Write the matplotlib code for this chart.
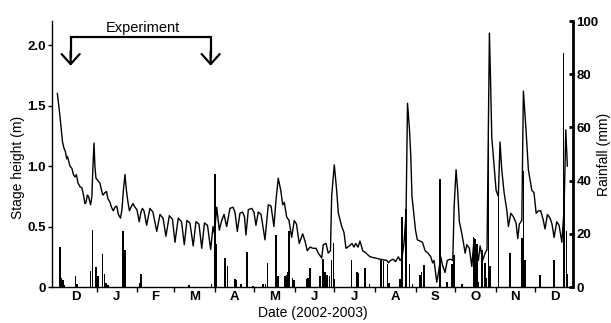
import matplotlib
matplotlib.use("Agg")
import matplotlib.pyplot as plt
from matplotlib.ticker import FixedLocator, NullFormatter, FixedFormatter

plt.rcParams['font.family'] = ['Liberation Sans', 'DejaVu Sans']

# x values: days since 1 Dec 2002
stage_days = [1.1, 3.0, 5.0, 6.1, 7.2, 8.2, 8.8, 10.7, 12.2, 13.3, 14.5, 15.6, 16.8, 18.3,
              19.8, 21.0, 22.1, 22.9, 23.9, 24.8, 26.4, 27.4, 28.2, 29.0, 29.7, 30.5, 32.0,
              33.5, 34.7, 35.8, 37.3, 38.5, 39.6, 41.2, 42.3, 43.7, 45.0, 46.3, 47.6, 49.2,
              50.3, 51.4, 52.6, 53.7, 54.9, 56.0, 57.2, 58.7, 60.2, 61.7, 63.5, 64.8, 65.9,
              67.1, 69.1, 71.6, 73.9, 76.8, 79.3, 81.6, 83.8, 86.4, 88.8, 90.7, 93.2, 95.7,
              97.8, 99.8, 102.1, 104.6, 106.7, 109.0, 111.1, 113.2, 115.5, 117.9, 119.7,
              120.8, 122.5, 124.5, 126.3, 128.1, 130.1, 132.6, 134.9, 136.4, 138.2, 140.2,
              142.2, 143.7, 144.8, 146.6, 149.2, 150.9, 152.4, 154.2, 156.3, 159.3, 161.8,
              163.9, 166.1, 167.7, 169.4, 171.3, 172.8, 174.0, 175.8, 177.6, 179.6, 181.6,
              183.3, 185.4, 188.0, 189.8, 191.5, 193.6, 195.9, 198.2, 199.9, 202.5, 203.7,
              205.8, 207.5, 209.2, 210.1, 212.1, 213.9, 215.2, 217.8, 219.5, 221.0, 223.6,
              225.6, 227.1, 228.4, 230.2, 231.7, 233.8, 236.3, 239.3, 243.1, 247.0, 252.1,
              253.3, 255.0, 256.9, 258.8, 260.9, 262.2, 263.7, 265.2, 266.8, 267.9, 269.4,
              270.4, 271.3, 272.9, 274.0, 275.4, 277.4, 279.3, 281.3, 283.5, 285.6, 287.0,
              288.1, 290.2, 291.5, 293.2, 294.6, 296.5, 298.2, 300.3, 302.4, 303.4, 304.9,
              306.1, 307.4, 309.3, 310.6, 311.8, 313.1, 315.0, 316.9, 318.6, 320.7, 321.9,
              323.2, 325.2, 327.0, 328.5, 329.7, 330.3, 331.2, 332.1, 333.9, 335.4, 337.1,
              338.4, 339.7, 341.5, 343.5, 344.8, 346.6, 348.6, 350.6, 351.9, 353.1, 355.0,
              356.2, 358.2, 360.0, 362.6, 364.3, 365.9, 367.6, 369.4, 371.2, 372.7, 374.5,
              376.5, 378.0, 379.6, 381.6, 383.4, 385.5, 387.2, 388.5, 389.7]
stage_m = [1.60, 1.42, 1.20, 1.15, 1.12, 1.06, 1.08, 1.00, 0.98, 0.93, 0.91, 0.93, 0.86, 0.83,
           0.82, 0.76, 0.69, 0.70, 0.76, 0.75, 0.68, 0.75, 1.00, 1.19, 1.00, 0.90, 0.88,
           0.86, 0.80, 0.76, 0.78, 0.79, 0.73, 0.70, 0.66, 0.63, 0.66, 0.67, 0.60, 0.57,
           0.64, 0.80, 0.93, 0.80, 0.70, 0.63, 0.66, 0.69, 0.66, 0.64, 0.54, 0.62, 0.65,
           0.63, 0.51, 0.65, 0.62, 0.46, 0.60, 0.57, 0.42, 0.59, 0.56, 0.37, 0.57, 0.54,
           0.35, 0.55, 0.53, 0.34, 0.54, 0.52, 0.32, 0.53, 0.51, 0.31, 0.50,
           0.44, 0.66, 0.47, 0.55, 0.60, 0.50, 0.65, 0.66, 0.62, 0.46, 0.61,
           0.62, 0.58, 0.43, 0.64, 0.65, 0.62, 0.51, 0.62, 0.60, 0.39, 0.68,
           0.67, 0.50, 0.72, 0.90, 0.80, 0.68, 0.70, 0.58, 0.55, 0.41, 0.55,
           0.52, 0.36, 0.44, 0.38, 0.30, 0.33, 0.32, 0.32, 0.28, 0.24, 0.35,
           0.36, 0.28, 0.30, 0.75, 1.01, 0.80, 0.61, 0.50, 0.45, 0.32, 0.34,
           0.36, 0.33, 0.36, 0.33, 0.38, 0.30, 0.28, 0.25, 0.24, 0.23, 0.22,
           0.20, 0.22, 0.23, 0.21, 0.25, 0.22, 0.24, 0.36, 0.61, 1.52, 1.30,
           1.08, 0.75, 0.58, 0.47, 0.39, 0.38, 0.37, 0.30, 0.28, 0.25, 0.20,
           0.22, 0.04, 0.12, 0.25, 0.18, 0.12, 0.22, 0.23, 0.22, 0.66, 0.97,
           0.80, 0.54, 0.44, 0.36, 0.28, 0.35, 0.32, 0.17, 0.40, 0.30, 0.22,
           0.34, 0.22, 0.28, 0.31, 1.50, 2.10, 1.70, 1.24, 1.00, 0.80, 0.75,
           1.20, 0.97, 0.78, 0.64, 0.50, 0.61, 0.58, 0.53, 0.40, 0.52, 0.55,
           1.62, 1.30, 0.97, 0.80, 0.78, 0.61, 0.63, 0.63, 0.56, 0.48, 0.60,
           0.57, 0.52, 0.41, 0.54, 0.51, 0.37, 0.64, 1.30, 1.00]

rain_days = [3.0, 4.2, 5.3, 6.5, 14.9, 16.0, 26.4, 27.7, 30.5, 32.2, 35.6, 37.0, 38.1, 39.6,
             51.3, 52.6, 63.6, 64.8, 101.6, 118.7, 121.2, 122.5, 128.8, 130.7, 136.4, 137.7,
             140.8, 145.8, 150.2, 158.0, 159.7, 161.2, 167.7, 169.0, 174.5, 175.8, 176.8,
             177.8, 180.3, 181.4, 191.1, 192.1, 193.4, 200.7, 201.6, 203.3, 205.0, 206.6,
             208.3, 210.1, 211.4, 212.3, 225.1, 229.2, 230.7, 235.5, 239.0, 247.7, 249.5,
             252.5, 253.8, 262.2, 263.5, 266.6, 269.3, 271.7, 277.4, 278.7, 280.3, 292.7,
             297.8, 301.6, 303.4, 309.3, 318.1, 319.4, 320.7, 321.9, 324.5, 327.0, 328.2,
             329.7, 330.8, 337.1, 346.0, 355.0, 356.2, 357.5, 368.4, 369.3, 379.6, 386.6,
             387.5, 389.1, 389.9]
rain_mm = [15, 3.5, 2.5, 0.8, 4, 1, 6, 21.5, 7.5, 4, 12.5, 4.8, 1.5, 0.8,
           21, 14, 1.5, 5, 0.8, 1, 42.5, 16, 11, 8, 3, 2.8,
           1, 13, 0.5, 1, 1.2, 9, 19.5, 4, 4, 4.6, 5.7,
           21, 3.5, 2.5, 3, 3.3, 7, 4.2, 4, 10.5, 5.7, 4.5,
           4, 10, 16.4, 3, 10.3, 5.5, 5.2, 7, 1, 10, 9.8,
           8.8, 1.5, 3, 26.5, 29.5, 8.8, 1, 4.6, 5.5, 8.2, 40.5,
           2, 8.8, 12, 1, 18.9, 18, 16, 2, 13.8, 9, 3.5,
           64, 8, 34, 12.8, 18.3, 43.5, 10, 4.6, 4.4, 10.3, 88,
           34, 21, 5]

month_starts = [0, 31, 62, 90, 121, 151, 182, 212, 243, 274, 304, 335, 365]
month_labels = ['D', 'J', 'F', 'M', 'A', 'M', 'J', 'J', 'A', 'S', 'O', 'N', 'D']
exp_start, exp_end = 11.2, 117.9

W, H = 611, 323
fig = plt.figure(figsize=(W / 100, H / 100), dpi=100)
ax = fig.add_axes([52 / W, 1 - 287 / H, 521 / W, 266 / H])
ax2 = ax.twinx()

ax.plot(stage_days, stage_m, color='black', lw=1.0, zorder=3)
ax2.bar(rain_days, rain_mm, width=1.2, color='black', linewidth=0)

ax.set_xlim(-3, 394)
ax.set_ylim(0, 2.2)
ax2.set_ylim(0, 100)

for a in (ax, ax2):
    a.spines['top'].set_visible(False)
ax.spines['right'].set_visible(False)
ax2.spines['left'].set_visible(False)
ax2.spines['bottom'].set_visible(False)
ax.spines['left'].set_linewidth(1.0)
ax.spines['bottom'].set_linewidth(1.0)
ax2.spines['right'].set_linewidth(2.0)

ax.set_yticks([0, 0.5, 1.0, 1.5, 2.0])
ax.set_yticklabels(['0', '0.5', '1.0', '1.5', '2.0'])
ax2.set_yticks([0, 20, 40, 60, 80, 100])
ax.tick_params(axis='y', direction='out', length=3, width=1, pad=1.5,
               labelsize=9.5)
ax2.tick_params(axis='y', direction='in', length=3, width=2, pad=2.5,
                labelsize=9.5)
for lab in ax.get_yticklabels() + ax2.get_yticklabels():
    lab.set_fontweight('bold')

mids = [(month_starts[i] + month_starts[i + 1]) / 2 if i + 1 < len(month_starts)
        else month_starts[i] + 15.5 for i in range(len(month_labels))]
ax.xaxis.set_major_locator(FixedLocator(month_starts[1:]))
ax.xaxis.set_major_formatter(NullFormatter())
ax.xaxis.set_minor_locator(FixedLocator(mids))
ax.xaxis.set_minor_formatter(FixedFormatter(month_labels))
ax.tick_params(axis='x', which='major', direction='out', length=3.5, width=1)
ax.tick_params(axis='x', which='minor', length=0, pad=3, labelsize=9.5)
for lab in ax.get_xticklabels(minor=True):
    lab.set_fontweight('bold')

ax.set_xlabel('Date (2002-2003)', fontsize=10, labelpad=2)
ax.set_ylabel('Stage height (m)', fontsize=10)
ax.yaxis.set_label_coords(-0.052, 0.45)
ax2.set_ylabel('Rainfall (mm)', fontsize=10)
ax2.yaxis.set_label_coords(1.0455, 0.5)

# Experiment bracket
y_bar, y_tip = 2.07, 1.83
ax.plot([exp_start, exp_start, exp_end, exp_end], [1.9, y_bar, y_bar, 1.9],
        color='black', lw=1.6, solid_joinstyle='miter', clip_on=False, zorder=5)
for xs in (exp_start, exp_end):
    ax.annotate('', xy=(xs, y_tip), xytext=(xs, 1.95),
                arrowprops=dict(arrowstyle='->,head_length=0.72,head_width=0.65',
                                lw=1.6, color='black', shrinkA=0, shrinkB=0),
                annotation_clip=False)
ax.text((exp_start + exp_end) / 2 + 2, 2.105, 'Experiment', ha='center', va='baseline',
        fontsize=10.5)

fig.savefig('out.png', dpi=100)
